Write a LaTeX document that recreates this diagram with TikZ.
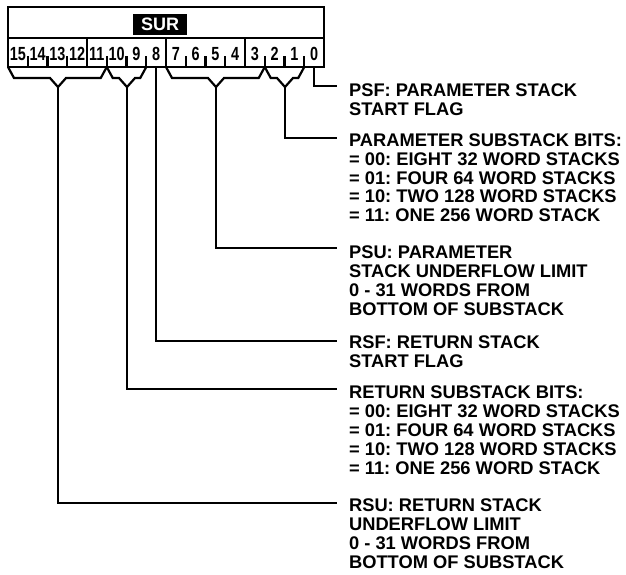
\documentclass[tikz,border=0pt]{standalone}
\usepackage{graphicx}
\usepackage{fontspec}
\setmainfont{Liberation Sans}
\frenchspacing
\newcommand\bitnum[1]{\scalebox{0.76}[1]{#1}}
\begin{document}
\begin{tikzpicture}[x=1pt,y=-1pt,line width=2.2pt,
  lbl/.style={anchor=north west,inner sep=0pt,align=left,font=\fontsize{18.3}{18.8}\selectfont\bfseries},
  bit/.style={inner sep=0pt,font=\fontsize{19}{19}\selectfont\bfseries}]
\useasboundingbox (0,0) rectangle (626,574);
\draw (8,7) rectangle (324,67);
\draw (8,38) -- (324,38);
\node[fill=black,text=white,inner sep=0pt,minimum width=54,minimum height=21,font=\fontsize{18}{18}\selectfont\bfseries] (sur) at (160,24) {SUR};

\foreach \b in {0,...,15}
  \node[bit] (b\b) at ({8+19.75*(15-\b)+9.875},54) {\bitnum{\b}};
\foreach \k in {4,8,12}
  \draw ({8+19.75*\k},38) -- ({8+19.75*\k},67);
\foreach \k in {1,2,3,5,6,7,9,10,11,13,14,15}
  \draw ({8+19.75*\k},56) -- ({8+19.75*\k},67);

\foreach \xa/\xm/\xb/\n in {8/58/106.75/rsu, 106.75/127/146.25/rsb, 166/216/264.75/psu, 264.75/285/304.25/psb} {
  \draw ({\xa},67) -- ({\xa+6},78) -- ({\xm-8},78) -- ({\xm},87) -- ({\xm+8},78) -- ({\xb-6},78) -- ({\xb},67);
  \coordinate (\n) at ({\xm},87);
}
\coordinate (rsf) at (156.1,67);
\coordinate (psf) at (314.1,67);

\coordinate (psfx) at (337,86);
\coordinate (psbx) at (337,138);
\coordinate (psux) at (337,248);
\coordinate (rsfx) at (337,341);
\coordinate (rsbx) at (337,389);
\coordinate (rsux) at (337,503);

\draw (psf) |- (psfx);
\draw (psb) |- (psbx);
\draw (psu) |- (psux);
\draw (rsf) |- (rsfx);
\draw (rsb) |- (rsbx);
\draw (rsu) |- (rsux);

\node[lbl] (psftxt) at (348,82.7) {PSF: PARAMETER STACK\\START FLAG};
\node[lbl] (psbtxt) at (348,132.7) {PARAMETER SUBSTACK BITS:\\= 00: EIGHT 32 WORD STACKS\\= 01: FOUR 64 WORD STACKS\\= 10: TWO 128 WORD STACKS\\= 11: ONE 256 WORD STACK};
\node[lbl] (psutxt) at (348,245) {PSU: PARAMETER\\STACK UNDERFLOW LIMIT\\0 - 31 WORDS FROM\\BOTTOM OF SUBSTACK};
\node[lbl] (rsftxt) at (348,335) {RSF: RETURN STACK\\START FLAG};
\node[lbl] (rsbtxt) at (348,385) {RETURN SUBSTACK BITS:\\= 00: EIGHT 32 WORD STACKS\\= 01: FOUR 64 WORD STACKS\\= 10: TWO 128 WORD STACKS\\= 11: ONE 256 WORD STACK};
\node[lbl] (rsutxt) at (348,498) {RSU: RETURN STACK\\UNDERFLOW LIMIT\\0 - 31 WORDS FROM\\BOTTOM OF SUBSTACK};
\end{tikzpicture}
\end{document}
